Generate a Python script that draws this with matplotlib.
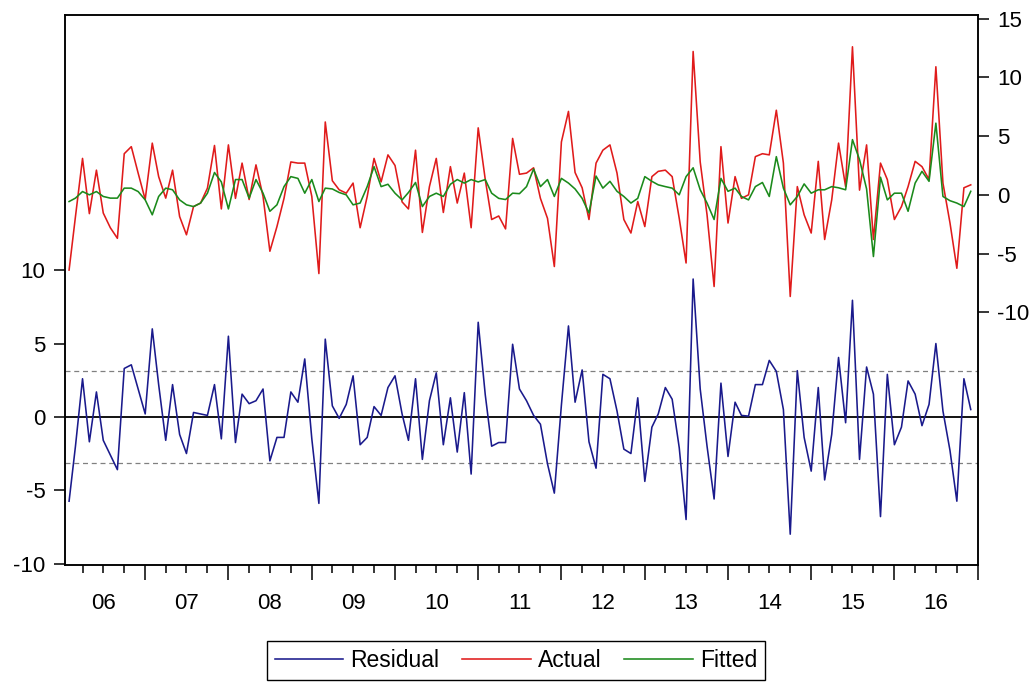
import numpy as np
import pandas as pd
import matplotlib
matplotlib.use('Agg')
import matplotlib.pyplot as plt
import matplotlib.dates as mdates

plt.rcParams['font.family'] = ['Liberation Sans', 'DejaVu Sans']
plt.rcParams['axes.unicode_minus'] = False

# monthly observations 2006M02 - 2016M12
dates = pd.date_range('2006-02-01', '2016-12-01', freq='MS')

residual = [
    -5.75, -2.0, 2.6, -1.7, 1.7, -1.6, -2.6, -3.6, 3.3, 3.55,
    1.9, 0.2, 6.0, 2.2, -1.6, 2.2, -1.2, -2.5, 0.3, 0.2,
    0.1, 2.2, -1.5, 5.5, -1.75, 1.55, 0.9, 1.1, 1.9, -3.0,
    -1.4, -1.4, 1.7, 1.0, 3.95, -1.5, -5.9, 5.3, 0.75, -0.1,
    0.85, 2.8, -1.9, -1.4, 0.7, 0.1, 2.0, 2.8, 0.2, -1.6,
    2.6, -2.9, 1.1, 3.0, -1.9, 1.3, -2.4, 1.65, -3.9, 6.45,
    1.5, -2.0, -1.75, -1.75, 4.95, 1.9, 1.1, 0.1, -0.5, -3.2,
    -5.2, 0.8, 6.2, 1.0, 3.2, -1.7, -3.5, 2.9, 2.6, 0.4,
    -2.2, -2.5, 1.3, -4.4, -0.7, 0.2, 2.0, 1.2, -2.1, -7.0,
    9.4, 1.9, -2.0, -5.6, 2.3, -2.7, 1.0, 0.1, 0.05, 2.2,
    2.2, 3.85, 3.1, 0.5, -8.0, 3.15, -1.4, -3.7, 2.0, -4.3,
    -1.2, 4.05, -0.4, 7.95, -2.9, 3.4, 1.55, -6.8, 2.9, -1.9,
    -0.7, 2.45, 1.55, -0.6, 0.85, 5.0, 0.4, -2.3, -5.75, 2.6,
    0.5,
]

actual = [
    -6.4, -1.85, 3.1, -1.6, 2.1, -1.55, -2.8, -3.7, 3.5, 4.1,
    1.85, -0.4, 4.4, 1.55, -0.28, 2.1, -1.85, -3.4, -1.0, -0.7,
    0.57, 4.2, -1.2, 4.25, -0.3, 2.7, -0.4, 2.55, -0.14, -4.8,
    -2.7, -0.3, 2.8, 2.7, 2.7, -0.14, -6.7, 6.2, 1.2, 0.43,
    0.14, 1.0, -2.8, -0.14, 3.1, 1.1, 3.4, 2.5, -0.6, -1.2,
    3.8, -3.2, 0.7, 3.1, -1.5, 2.4, -0.7, 1.85, -2.8, 5.7,
    1.3, -2.1, -1.8, -2.9, 4.8, 1.75, 1.85, 2.3, -0.3, -2.0,
    -6.1, 4.5, 7.1, 1.9, 0.6, -2.1, 2.7, 3.8, 4.25, 1.85,
    -2.1, -3.25, -0.57, -2.7, 1.55, 2.0, 2.1, 1.55, -2.0, -5.8,
    12.2, 2.8, -1.7, -7.8, 4.1, -2.4, 1.55, -0.3, 0.0, 3.25,
    3.5, 3.4, 7.2, 2.7, -8.65, 0.7, -1.7, -3.25, 2.85, -3.8,
    -0.43, 4.4, 0.7, 12.6, 0.4, 4.25, -3.8, 2.7, 1.3, -2.1,
    -1.0, 0.7, 2.85, 2.4, 1.3, 10.9, 1.0, -2.4, -6.25, 0.6,
    0.85,
]

fitted = [
    -0.57, -0.28, 0.28, 0.0, 0.28, -0.14, -0.28, -0.28, 0.57, 0.57,
    0.28, -0.43, -1.7, -0.14, 0.57, 0.43, -0.43, -0.85, -1.0, -0.7,
    0.14, 1.9, 1.1, -1.2, 1.3, 1.3, -0.28, 1.3, 0.14, -1.4,
    -0.85, 0.7, 1.55, 1.4, 0.14, 1.3, -0.57, 0.57, 0.5, 0.2,
    0.0, -0.85, -0.7, 0.7, 2.4, 0.7, 0.9, 0.14, -0.43, 0.2,
    1.05, -1.0, -0.14, 0.14, -0.14, 0.9, 1.3, 1.0, 1.3, 1.1,
    1.3, 0.14, -0.3, -0.4, 0.14, 0.1, 0.7, 2.2, 0.7, 1.3,
    -0.14, 1.4, 1.0, 0.5, -0.3, -1.55, 1.6, 0.57, 1.15, 0.3,
    -0.14, -0.7, -0.3, 1.55, 1.15, 0.85, 0.7, 0.57, 0.0, 1.55,
    2.3, 0.43, -0.7, -2.1, 1.4, 0.3, 0.57, -0.14, -0.43, 0.7,
    1.05, -0.14, 3.25, 0.57, -0.85, -0.14, 0.93, 0.14, 0.43, 0.43,
    0.7, 0.6, 0.43, 4.7, 3.0, 0.5, -5.25, 1.5, -0.43, 0.14,
    0.14, -1.4, 1.0, 2.0, 1.15, 6.1, -0.14, -0.5, -0.7, -1.0,
    0.3,
]

se_band = 3.15

fig = plt.figure(figsize=(10.33, 6.84), dpi=100)
ax = fig.add_axes([0.0629, 0.174, 0.8839, 0.804])
ax2 = ax.twinx()

ax.axhline(0, color='black', lw=1.3, zorder=1)
ax.axhline(se_band, color='#808080', lw=0.9, ls=(0, (4, 3)), zorder=1)
ax.axhline(-se_band, color='#808080', lw=0.9, ls=(0, (4, 3)), zorder=1)
l1, = ax.plot(dates, residual, color='#1a1a8c', lw=1.15, label='Residual', zorder=2)
l2, = ax2.plot(dates, actual, color='#e01b1b', lw=1.15, label='Actual')
l3, = ax2.plot(dates, fitted, color='#1b8a1b', lw=1.15, label='Fitted')

ax.set_ylim(-10.1, 27.4)
ax2.set_ylim(-31.5, 15.3)
ax.set_yticks([-10, -5, 0, 5, 10])
ax2.set_yticks([-10, -5, 0, 5, 10, 15])

ax.set_xlim(pd.Timestamp('2006-01-14'), pd.Timestamp('2017-01-02'))
ax.xaxis.set_major_locator(mdates.YearLocator())
ax.xaxis.set_major_formatter(plt.NullFormatter())
ax.xaxis.set_minor_locator(mdates.MonthLocator(bymonth=[4, 7, 10]))
ax.tick_params(axis='x', which='major', direction='out', length=11, width=1.1)
ax.tick_params(axis='x', which='minor', direction='out', length=6, width=1.1)
ax.tick_params(axis='y', direction='out', length=8, width=1.1, labelsize=16, pad=6)
ax2.tick_params(axis='y', direction='out', length=8, width=1.1, labelsize=16, pad=6)

mids = pd.date_range('2006-07-01', '2016-07-01', freq='12MS')
sec = ax.secondary_xaxis('bottom')
sec.set_xticks(mdates.date2num(mids))
sec.set_xticklabels(['%02d' % (d.year % 100) for d in mids])
sec.tick_params(length=0, labelsize=16, pad=20)
sec.xaxis.set_minor_locator(plt.NullLocator())
sec.spines['bottom'].set_visible(False)

for a in (ax, ax2):
    for s in a.spines.values():
        s.set_linewidth(1.1)

fig.legend(handles=[l1, l2, l3], loc='center', bbox_to_anchor=(0.4995, 0.034),
           ncol=3, fontsize=16.5, frameon=True, fancybox=False, edgecolor='black',
           framealpha=1, handlelength=3.0, handletextpad=0.3, columnspacing=1.0,
           borderpad=0.35)

fig.savefig('out.png', dpi=100)
